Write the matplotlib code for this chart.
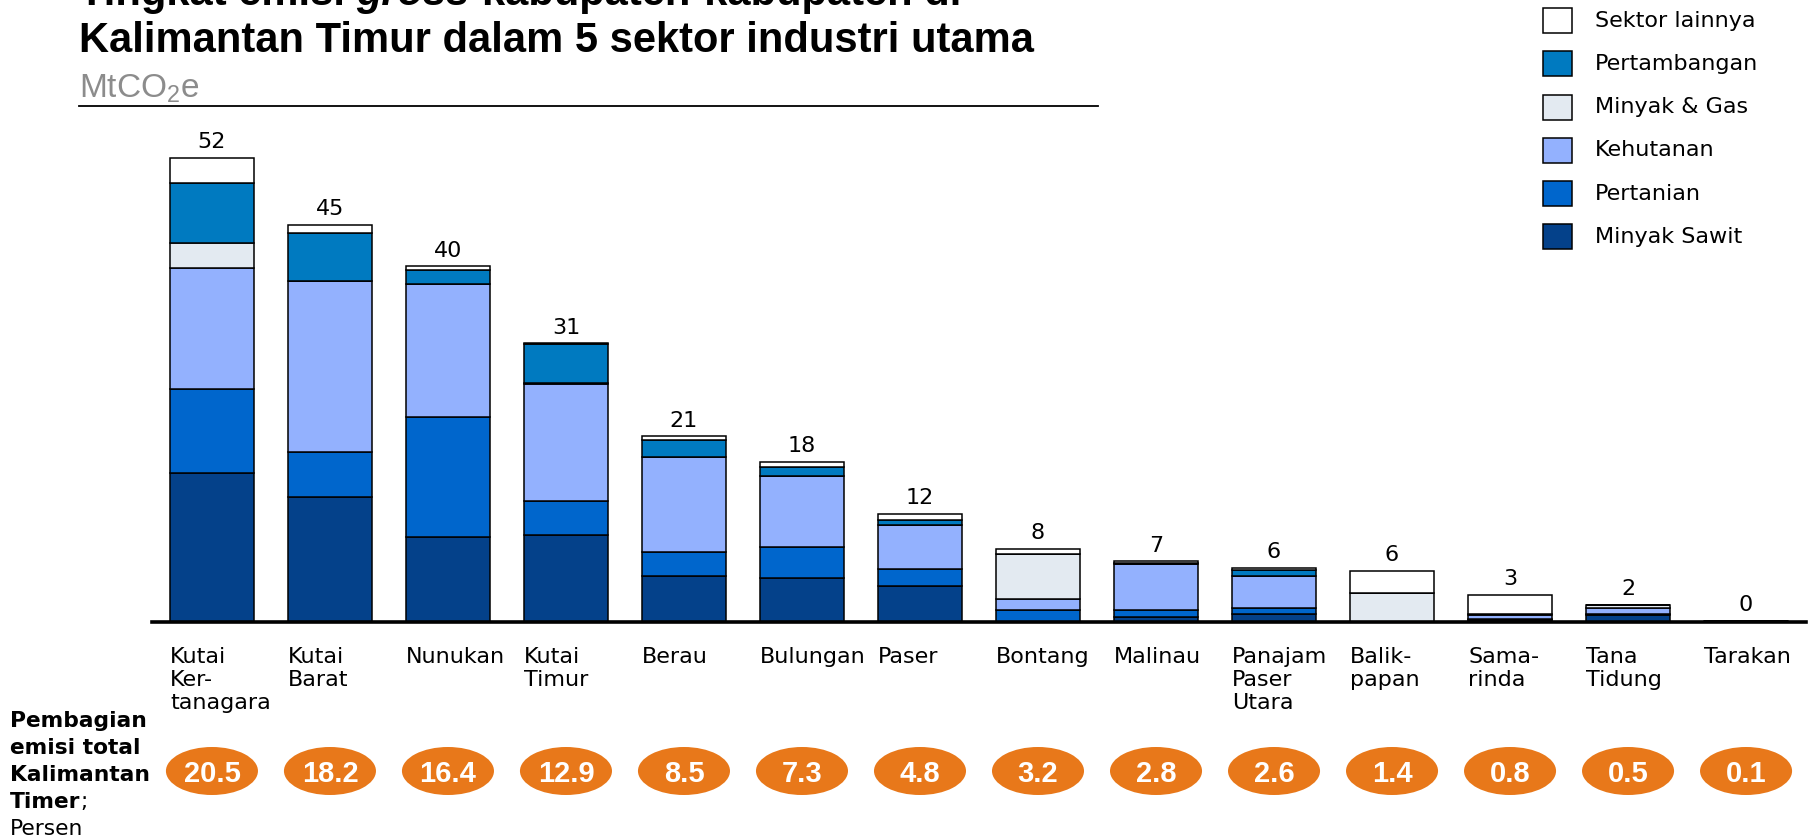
import matplotlib
matplotlib.use("Agg")
import matplotlib.pyplot as plt
import numpy as np
from matplotlib.patches import Ellipse, Rectangle
from matplotlib.lines import Line2D
from matplotlib.transforms import blended_transform_factory

# ---------------- data ----------------
regions = ["Kutai\nKer-\ntanagara", "Kutai\nBarat", "Nunukan", "Kutai\nTimur", "Berau",
           "Bulungan", "Paser", "Bontang", "Malinau", "Panajam\nPaser\nUtara",
           "Balik-\npapan", "Sama-\nrinda", "Tana\nTidung", "Tarakan"]
minyak_sawit   = [16.7, 14.0, 9.55, 9.7, 5.1, 4.9, 4.0, 0.0, 0.55, 0.85, 0.0, 0.2, 0.75, 0.05]
pertanian      = [9.4, 5.1, 13.5, 3.9, 2.7, 3.45, 1.9, 1.3, 0.75, 0.65, 0.0, 0.15, 0.15, 0.0]
kehutanan      = [13.6, 19.2, 14.9, 13.1, 10.7, 8.05, 4.95, 1.2, 5.2, 3.6, 0.0, 0.4, 0.6, 0.0]
minyak_gas     = [2.9, 0.0, 0.0, 0.1, 0.0, 0.0, 0.0, 5.1, 0.0, 0.0, 3.25, 0.1, 0.35, 0.0]
pertambangan   = [6.7, 5.4, 1.6, 4.4, 1.9, 1.0, 0.55, 0.0, 0.15, 0.75, 0.0, 0.0, 0.0, 0.0]
sektor_lainnya = [2.8, 0.9, 0.4, 0.1, 0.45, 0.6, 0.7, 0.6, 0.15, 0.2, 2.5, 2.15, 0.05, 0.05]
total_labels   = ["52", "45", "40", "31", "21", "18", "12", "8", "7", "6", "6", "3", "2", "0"]
share_pct      = ["20.5", "18.2", "16.4", "12.9", "8.5", "7.3", "4.8", "3.2", "2.8", "2.6",
                  "1.4", "0.8", "0.5", "0.1"]

series_names = ["Minyak Sawit", "Pertanian", "Kehutanan", "Minyak & Gas", "Pertambangan", "Sektor lainnya"]
series_vals = [minyak_sawit, pertanian, kehutanan, minyak_gas, pertambangan, sektor_lainnya]
series_colors = ["#04418A", "#0066CC", "#93B1FE", "#E3EAF1", "#007AC0", "#FFFFFF"]

ORANGE = "#E8781A"

# ---------------- layout helpers ----------------
W, H = 1816, 836
fig = plt.figure(figsize=(W / 100, H / 100), dpi=100)

def fx(px):
    return px / W

def fy(py):
    return 1 - py / H

PX_PER_UNIT = 8.9
base_px = 621.7
ymax = 55
ax = fig.add_axes([fx(152), fy(base_px), fx(1806) - fx(152), ymax * PX_PER_UNIT / H])
ax.set_xlim(-0.508, 13.508)
ax.set_ylim(0, ymax)

x = np.arange(len(regions))
bw = 0.712
bottom = np.zeros(len(regions))
for vals, col in zip(series_vals, series_colors):
    v = np.array(vals)
    ax.bar(x, v, width=bw, bottom=bottom, color=col, edgecolor="black", linewidth=1.1, zorder=2)
    bottom += v

for s in ["top", "left", "right"]:
    ax.spines[s].set_visible(False)
ax.spines["bottom"].set_linewidth(2.6)
ax.spines["bottom"].set_zorder(3)
ax.set_xticks([])
ax.set_yticks([])
ax.patch.set_alpha(0)

# value labels
for xi, tot, lbl in zip(x, bottom, total_labels):
    ax.annotate(lbl, (xi, tot), xytext=(0, 4), textcoords="offset points",
                ha="center", va="bottom", fontsize=16, family="DejaVu Sans", color="black")

trans = blended_transform_factory(ax.transData, fig.transFigure)

# category labels (left aligned at bar edge)
for xi, lbl in zip(x, regions):
    ax.text(xi - bw / 2, fy(647), lbl, transform=trans, ha="left", va="top",
            fontsize=16, family="DejaVu Sans", linespacing=1.2, color="black", clip_on=False)

# share ellipses
for xi, s in zip(x, share_pct):
    e = Ellipse((xi, fy(771)), width=0.78, height=48 / H, transform=trans,
                facecolor=ORANGE, edgecolor="none", clip_on=False, zorder=4)
    ax.add_patch(e)
    ax.text(xi, fy(771), s, transform=trans, ha="center", va="center_baseline",
            fontsize=21, weight="bold", family="Liberation Sans", color="white", zorder=5,
            clip_on=False)

# left side label
left_lines = [("Pembagian", "bold"), ("emisi total", "bold"), ("Kalimantan", "bold"),
              ("Timer", "bold"), ("Persen", "normal")]
renderer = fig.canvas.get_renderer()
for i, (s, wgt) in enumerate(left_lines):
    t = fig.text(fx(10), fy(726.7 + 27 * i), s, fontsize=15.7, weight=wgt,
                 family="DejaVu Sans", va="baseline", ha="left")
    if s == "Timer":
        bb = t.get_window_extent(renderer)
        fig.text(bb.x1 / W, fy(726.7 + 27 * i), ";", fontsize=15.7, weight="normal",
                 family="DejaVu Sans", va="baseline", ha="left")

# title
def text_width(s, **kw):
    t = fig.text(0, 0, s, **kw)
    w = t.get_window_extent(renderer).width
    t.remove()
    return w

tkw = dict(fontsize=30, weight="bold", family="Liberation Sans")
space_w = text_width("x x", **tkw) - text_width("xx", **tkw)
x0 = 79.0
pieces = [("Tingkat emisi", "normal"), ("gross", "italic"), ("kabupaten-kabupaten di", "normal")]
for s, st in pieces:
    t = fig.text(fx(x0), fy(5), s, style=st, va="baseline", ha="left", **tkw)
    x0 += t.get_window_extent(renderer).width + space_w

fig.text(fx(79), fy(52), "Kalimantan Timur dalam 5 sektor industri utama",
         va="baseline", ha="left", **tkw)
fig.text(fx(79), fy(97), r"MtCO$_\mathregular{2}$e", fontsize=24, color="#8C8C8C",
         family="Liberation Sans", va="baseline", ha="left")
fig.add_artist(Line2D([fx(79), fx(1098)], [fy(106), fy(106)], color="black", lw=1.3,
                      transform=fig.transFigure))

# legend (top to bottom)
for i, (name, col) in enumerate(zip(series_names[::-1], series_colors[::-1])):
    cy = 20.7 + 43.2 * i
    r = Rectangle((fx(1543), fy(cy + 12.5)), 29 / W, 25 / H, facecolor=col,
                  edgecolor="black", linewidth=1.1, transform=fig.transFigure)
    fig.add_artist(r)
    fig.text(fx(1595), fy(cy), name, fontsize=16, family="DejaVu Sans",
             va="center", ha="left", color="black")

fig.savefig("out.png", dpi=100, facecolor="white")
